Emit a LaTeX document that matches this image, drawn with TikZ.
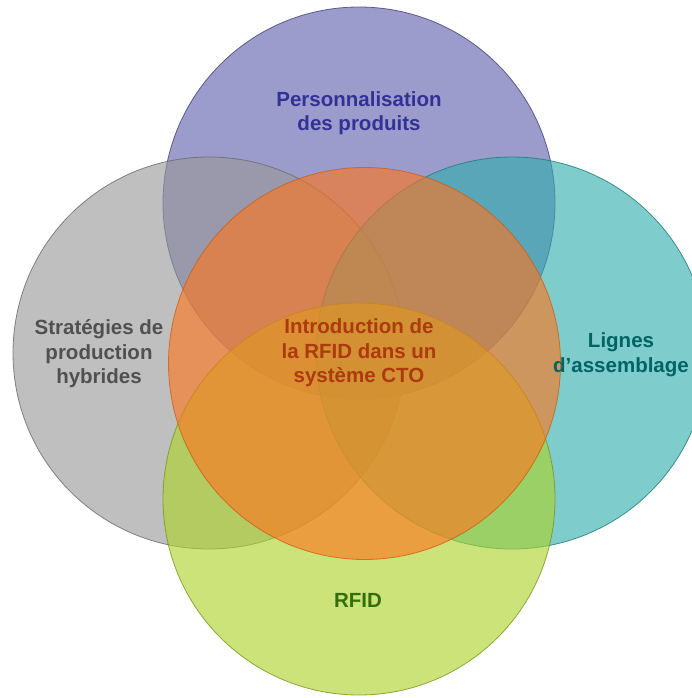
\documentclass[tikz,border=0pt]{standalone}
\usepackage{fontspec}
\setmainfont{Liberation Sans}
\definecolor{cpurple}{RGB}{94,94,173}
\definecolor{cgray}{RGB}{152,152,152}
\definecolor{cteal}{RGB}{47,173,173}
\definecolor{cgreen}{RGB}{173,211,40}
\definecolor{corange}{RGB}{255,117,28}
\definecolor{tpurple}{RGB}{50,50,150}
\definecolor{tgray}{RGB}{80,80,80}
\definecolor{tteal}{RGB}{0,100,100}
\definecolor{torange}{RGB}{172,58,12}
\definecolor{tgreen}{RGB}{50,110,10}
\tikzset{
  venn/.style={fill opacity=0.62, draw opacity=0.8, line width=0.8pt},
  lbl/.style={align=center, font=\fontsize{20.5}{24.5}\selectfont\bfseries, inner sep=0pt}
}
\begin{document}
\begin{tikzpicture}[x=1pt,y=-1pt]
\useasboundingbox (0,0) rectangle (692,698);
\fill[white] (0,0) rectangle (692,698);
\begin{scope}
\clip (0,0) rectangle (692,698);
\fill[cpurple, venn, draw=cpurple!70!black] (359,203) circle[radius=196];
\fill[cgray, venn, draw=cgray!70!black] (209,353) circle[radius=196];
\fill[cteal, venn, draw=cteal!70!black] (512,353) circle[radius=196];
\fill[cgreen, venn, draw=cgreen!70!black] (359,499) circle[radius=196];
\fill[corange, venn, draw=corange!80!black] (364.5,363.5) circle[radius=196];
\end{scope}
\node[lbl, text=tpurple] (perso) at (359,113) {Personnalisation\\des produits};
\node[lbl, text=tgray] (strat) at (99,354) {Stratégies de\\production\\hybrides};
\node[lbl, text=tteal] (lignes) at (621,354.5) {Lignes\\d’assemblage};
\node[lbl, text=torange] (intro) at (359,353) {Introduction de\\la RFID dans un\\système CTO};
\node[lbl, text=tgreen] (rfid) at (358,600) {RFID};
\end{tikzpicture}
\end{document}
